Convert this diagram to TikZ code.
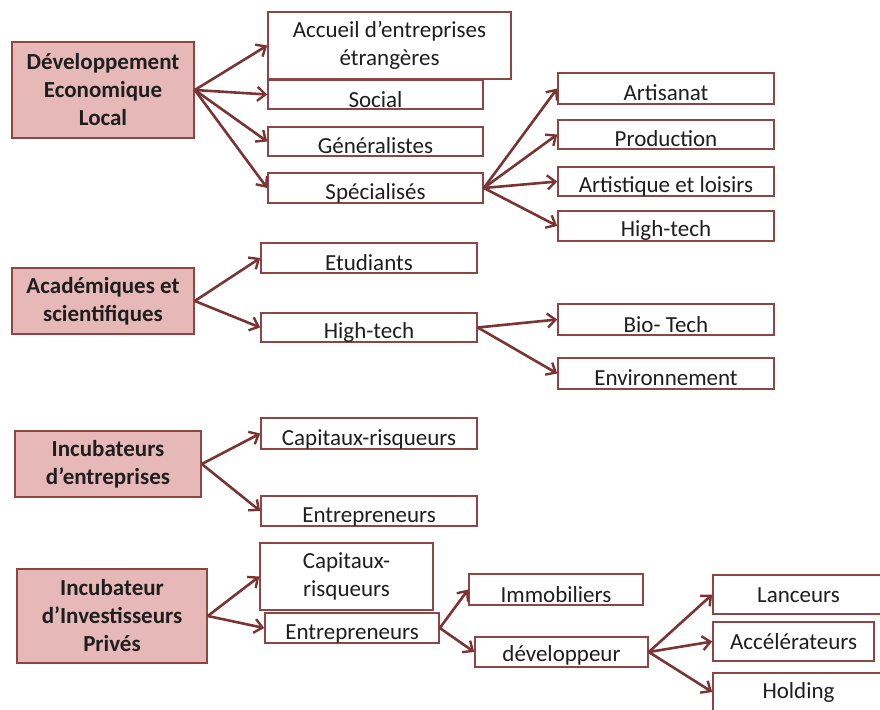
\documentclass[tikz,border=0pt]{standalone}
\usepackage{fontspec}
\setmainfont{Carlito}
\usetikzlibrary{arrows.meta}
\definecolor{boxline}{HTML}{8C4645}
\definecolor{arrowcol}{HTML}{7A3434}
\definecolor{rosefill}{HTML}{E6B8B7}
\definecolor{ink}{HTML}{1E1E1E}
\tikzset{
  basefont/.style={font=\fontsize{23}{28}\selectfont, text=ink},
  headbox/.style n args={2}{basefont, draw=boxline, fill=rosefill, line width=1.6pt,
    font=\fontsize{23}{28}\selectfont\bfseries, align=center, inner sep=0pt,
    minimum width=#1pt, minimum height=#2pt},
  wrapbox/.style n args={2}{basefont, draw=boxline, fill=white, line width=1.6pt,
    align=center, inner sep=0pt, minimum width=#1pt, minimum height=#2pt},
  leaf/.style n args={3}{basefont, draw=boxline, fill=white, line width=1.6pt,
    inner xsep=2pt, inner ysep=0pt, minimum width=#1pt,
    text height=#2pt, text depth=#3pt},
  arr/.style={draw=arrowcol, line width=2.6pt,
    -{Straight Barb[length=8pt,width=14pt,line width=2.4pt]}},
}
\begin{document}
\begin{tikzpicture}[x=1pt,y=-1pt]
\useasboundingbox (0,0) rectangle (880,709);
\clip (0,0) rectangle (880,709);

% ---- Développement Economique Local
\node[headbox={182}{96}] (del) at (103,90) {Développement\\Economique\\Local};
\node[wrapbox={243}{67}] (acc) at (389.5,45.5) {Accueil d’entreprises\\étrangères};
\node[leaf={215}{27}{2}] (soc) at (375.5,94.5) {Social};
\node[leaf={215}{26}{3}] (gen) at (375.5,141.5) {Généralistes};
\node[leaf={215}{26}{4}] (spe) at (375.5,188) {Spécialisés};
\node[leaf={216}{27}{4}] (art) at (666,88.5) {Artisanat};
\node[leaf={216}{26}{3}] (pro) at (666,134.5) {Production};
\node[leaf={216}{25}{4}] (loi) at (666,181.5) {Artistique et loisirs};
\node[leaf={216}{25}{5}] (htA) at (666,226) {High-tech};

\draw[arr] (del.east) -- (acc.west);
\draw[arr] (del.east) -- (soc.west);
\draw[arr] (del.east) -- (gen.west);
\draw[arr] (del.east) -- (spe.west);
\draw[arr] (spe.east) -- (art.west);
\draw[arr] (spe.east) -- (pro.west);
\draw[arr] (spe.east) -- (loi.west);
\draw[arr] (spe.east) -- (htA.west);

% ---- Académiques et scientifiques
\node[headbox={182}{66}] (aca) at (103,301) {Académiques et\\scientifiques};
\node[leaf={216}{27}{3}] (etu) at (369,258) {Etudiants};
\node[leaf={216}{25}{4}] (htB) at (369,327.5) {High-tech};
\node[leaf={216}{28}{3}] (bio) at (666,319.5) {Bio- Tech};
\node[leaf={216}{27}{4}] (env) at (666,373.5) {Environnement};

\draw[arr] (aca.east) -- (etu.west);
\draw[arr] (aca.east) -- (htB.west);
\draw[arr] (htB.east) -- (bio.west);
\draw[arr] (htB.east) -- (env.west);

% ---- Incubateurs d'entreprises
\node[headbox={186}{66}] (inc) at (108,464) {Incubateurs\\d’entreprises};
\node[leaf={216}{27}{4}] (capA) at (369,433.5) {Capitaux-risqueurs};
\node[leaf={216}{26}{4}] (entA) at (369,511) {Entrepreneurs};

\draw[arr] (inc.east) -- (capA.west);
\draw[arr] (inc.east) -- (entA.west);

% ---- Incubateur d'Investisseurs Privés
\node[headbox={190}{94}] (iip) at (112,616) {Incubateur\\d’Investisseurs\\Privés};
\node[wrapbox={173}{67}] (capB) at (346.5,576.5) {Capitaux-\\risqueurs};
\node[leaf={174}{26}{4}] (entB) at (352,628) {Entrepreneurs};
\node[leaf={174}{28}{3}] (imm) at (556,589.5) {Immobiliers};
\node[leaf={173}{24}{6}] (dev) at (561.5,652) {développeur};
\node[leaf={171}{27}{12}] (lan) at (798.5,594.5) {Lanceurs};
\node[leaf={161}{27}{12}] (acl) at (793.5,641.5) {Accélérateurs};
\node[leaf={171}{25}{13}] (hol) at (798.5,692) {Holding};

\draw[arr] (iip.east) -- (capB.west);
\draw[arr] (iip.east) -- (entB.west);
\draw[arr] (entB.east) -- (imm.west);
\draw[arr] (entB.east) -- (dev.west);
\draw[arr] (dev.east) -- (lan.west);
\draw[arr] (dev.east) -- (acl.west);
\draw[arr] (dev.east) -- (hol.west);
\end{tikzpicture}
\end{document}
